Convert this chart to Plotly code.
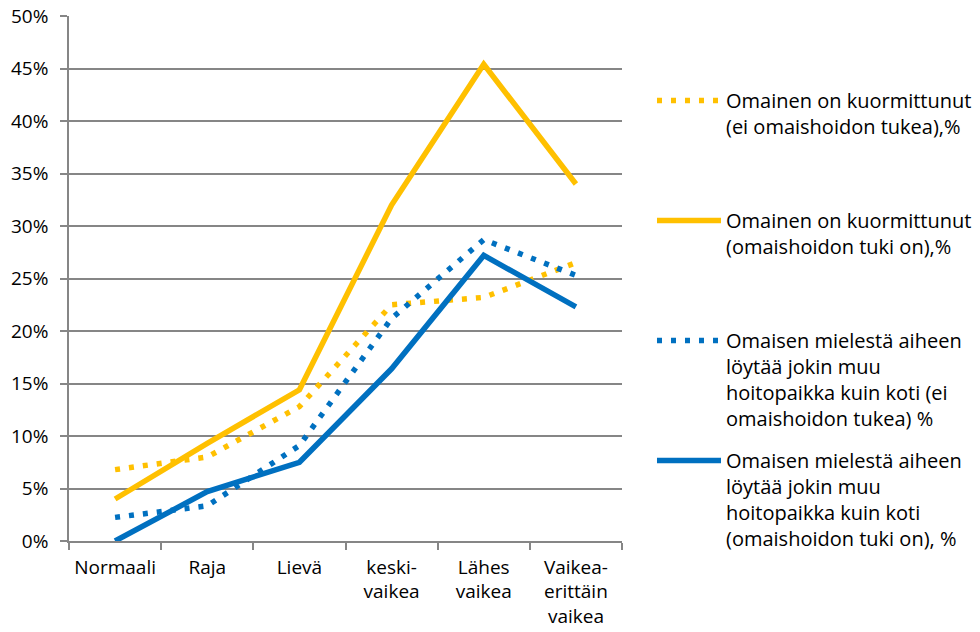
import plotly.graph_objects as go

categories = ["Normaali", "Raja", "Lievä", "keski-<br>vaikea", "Lähes<br>vaikea", "Vaikea-<br>erittäin<br>vaikea"]

kuorm_ei_tukea = [6.8, 8.0, 12.8, 22.5, 23.2, 26.5]
kuorm_tuki_on = [4.0, 9.3, 14.4, 32.0, 45.4, 34.0]
hoitopaikka_ei_tukea = [2.25, 3.35, 9.1, 21.2, 28.7, 25.3]
hoitopaikka_tuki_on = [0.0, 4.7, 7.5, 16.4, 27.2, 22.3]

names = [
    "Omainen on kuormittunut<br>(ei omaishoidon tukea),%<br> <br> ",
    "Omainen on kuormittunut<br>(omaishoidon tuki on),%<br> <br> ",
    "Omaisen mielestä aiheen<br>löytää jokin muu<br>hoitopaikka kuin koti (ei<br>omaishoidon tukea) %",
    "Omaisen mielestä aiheen<br>löytää jokin muu<br>hoitopaikka kuin koti<br>(omaishoidon tuki on), %",
]

YELLOW = "#FFC000"
BLUE = "#0070C0"
GRID = "#868686"
FONT = "Open Sans"

series = [
    (kuorm_ei_tukea, YELLOW, "5px,9px"),
    (kuorm_tuki_on, YELLOW, "solid"),
    (hoitopaikka_ei_tukea, BLUE, "5px,9px"),
    (hoitopaikka_tuki_on, BLUE, "solid"),
]

fig = go.Figure()
for i, ((vals, color, dash), name) in enumerate(zip(series, names)):
    fig.add_trace(go.Scatter(
        x=categories, y=vals, name=name, mode="lines",
        line=dict(color=color, width=5.5, dash=dash),
        legendgroup=f"g{i}",
    ))

fig.update_layout(
    width=980, height=632,
    margin=dict(l=69, r=358, t=16, b=91),
    paper_bgcolor="white", plot_bgcolor="white",
    font=dict(family=FONT, size=19, color="#000000"),
    showlegend=True,
    legend=dict(
        xref="container", yref="container",
        x=0.6653, y=0.8718, xanchor="left", yanchor="top",
        font=dict(family=FONT, size=20, color="#000000"),
        valign="top", itemwidth=64, tracegroupgap=13,
        maxheight=560,
        bgcolor="rgba(0,0,0,0)",
    ),
    xaxis=dict(
        type="category", range=[-0.5, 5.5], automargin=False,
        tickson="boundaries", ticks="outside", ticklen=7, tickwidth=1.5, tickcolor=GRID,
        showgrid=False, showline=True, linecolor=GRID, linewidth=1.5,
        tickfont=dict(family=FONT, size=19), ticklabelstandoff=8, tickangle=0,
        fixedrange=True,
    ),
    yaxis=dict(
        range=[0, 50], dtick=5, ticksuffix="%", automargin=False,
        ticks="outside", ticklen=7, tickwidth=1.5, tickcolor=GRID,
        showgrid=True, gridcolor=GRID, gridwidth=1.5,
        showline=True, linecolor=GRID, linewidth=1.5,
        zeroline=False,
        tickfont=dict(family=FONT, size=19), ticklabelstandoff=8,
    ),
)

fig.write_html("out.html")
